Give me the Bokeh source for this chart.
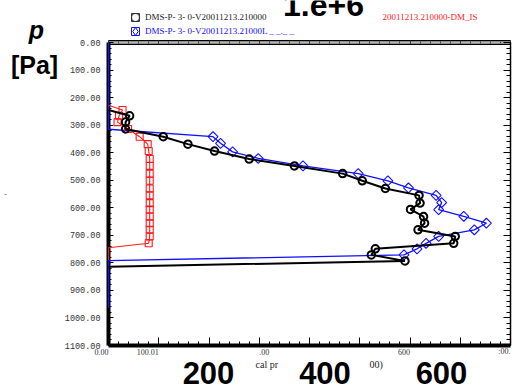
import numpy as np
from bokeh.plotting import figure
from bokeh.models import (LinearAxis, FixedTicker, PrintfTickFormatter, Range1d,
                          Label, Legend, LegendItem)
from bokeh.embed import file_html
from bokeh.resources import INLINE

# ---------------- data ----------------
black_x = [0, 42, 34, 34, 109, 158, 211, 280, 370, 466, 505, 551, 618, 620, 601,
           627, 629, 616, 690, 687, 531, 523, 590, 0]
black_p = [245, 266, 289, 314, 342, 369, 394, 423, 448, 476, 502, 530, 555, 583, 606,
           632, 656, 680, 704, 729, 749, 771, 793, 814]

blue_x = [0, 0, 208, 223, 247, 298, 387, 497, 556, 597, 652, 663, 657, 707, 752,
          728, 657, 632, 614, 588, 0, 0]
blue_p = [0, 315, 342, 366, 397, 421, 448, 476, 502, 528, 555, 581, 607, 631, 656,
          680, 704, 729, 749, 771, 792, 963]

red_x = [0, 28, 21, 18, 39, 62, 78, 80, 82, 82, 82, 82, 82, 82, 82, 82, 82, 82, 82,
         82, 80, 0, 0]
red_p = [228, 245, 266, 289, 314, 342, 369, 394, 423, 448, 476, 502, 530, 555, 583,
         606, 632, 656, 680, 704, 729, 745, 790]

label_black = "DMS-P- 3- 0-V20011213.210000"
label_blue = "DMS-P- 3- 0-V20011213.21000L _ _._ _"
label_red = "20011213.210000-DM_IS"
title_text = "1.e+6"
y_title = ["p", "[Pa]"]
y_axis_frag = "-"

x_lim = (0, 800)
y_lim = (0, 1100)
y_ticks = list(range(0, 1101, 100))
y_minor = list(range(0, 1101, 20))
x_ticks = list(range(0, 801, 100))
x_minor = list(range(0, 801, 20))

x_frag_vals = [0, 100, 300, 600, 800]
x_frag_text = ["0.00", "100.01", ".00", "600", ":00."]
x_frag_align = ["right", "right", "left", "right", "right"]

big_ticks = [200, 400, 600]
axis_title_frags = ["cal pr", "00)"]

# ---------------- layout ----------------
W, H = 512, 392
FL, FT, FR, FB = 108, 42, 510, 345   # plot box in canvas px (from top-left)

XS = (FR - FL) / (x_lim[1] - x_lim[0])
YS = (FB - FT) / (y_lim[1] - y_lim[0])
x_lo = x_lim[0] - FL / XS
x_hi = x_lim[1] + (W - FR) / XS
y_top = y_lim[0] - FT / YS
y_bot = y_lim[1] + (H - FB) / YS

def ydat(py):
    return y_lim[0] + (py - FT) / YS

# secondary scale used by the large tick labels: 200 -> px 208, 600 -> px 441
BK = (441 - 208) / 400.0
big_lo = 200 - 208 / BK
big_hi = 200 + (W - 208) / BK

p = figure(width=W, height=H, x_range=Range1d(x_lo, x_hi), y_range=Range1d(y_bot, y_top),
           output_backend="svg", toolbar_location=None,
           x_axis_location=None, y_axis_location=None,
           min_border=0)
p.grid.visible = False
p.outline_line_color = None
p.background_fill_color = "white"
p.border_fill_color = "white"
p.extra_x_ranges = {"big": Range1d(big_lo, big_hi)}

def sx(cx):
    return cx
def sy(cy):
    return H - cy

# ---------------- axes (fixed at the box edges) ----------------
left = LinearAxis(ticker=FixedTicker(ticks=y_ticks, minor_ticks=y_minor),
                  formatter=PrintfTickFormatter(format="%.2f"),
                  fixed_location=x_lim[0], bounds=y_lim,
                  axis_line_width=4, axis_line_color="black",
                  major_tick_in=5, major_tick_out=0, minor_tick_in=3, minor_tick_out=0,
                  major_label_standoff=8, major_label_text_font="Liberation Mono",
                  major_label_text_font_size="8.5px", major_label_text_color="#333333")
p.add_layout(left, "left")

right = LinearAxis(ticker=FixedTicker(ticks=y_ticks, minor_ticks=y_minor),
                   fixed_location=x_lim[1], bounds=y_lim,
                   axis_line_width=1.5, axis_line_color="black",
                   major_tick_in=7, major_tick_out=0, minor_tick_in=4, minor_tick_out=0,
                   major_label_text_color=None)
p.add_layout(right, "right")

top_k = LinearAxis(ticker=FixedTicker(ticks=[]), fixed_location=y_lim[0], bounds=x_lim,
                   axis_line_width=5, axis_line_color="black",
                   major_tick_in=0, major_tick_out=0, minor_tick_in=0, minor_tick_out=0,
                   major_label_text_color=None)
p.add_layout(top_k, "above")
top_g = LinearAxis(ticker=FixedTicker(ticks=x_ticks, minor_ticks=x_minor),
                   fixed_location=y_lim[0], bounds=x_lim,
                   axis_line_width=2.5, axis_line_color="#b8b8b8",
                   major_tick_in=2, major_tick_out=2, minor_tick_in=1, minor_tick_out=1,
                   major_tick_line_color="#222222", minor_tick_line_color="#444444",
                   major_label_text_color=None)
p.add_layout(top_g, "above")

bottom = LinearAxis(ticker=FixedTicker(ticks=x_ticks, minor_ticks=x_minor),
                    fixed_location=y_lim[1], bounds=x_lim,
                    axis_line_width=4, axis_line_color="black",
                    major_tick_in=8, major_tick_out=0, minor_tick_in=4, minor_tick_out=0,
                    major_label_text_color=None)
p.add_layout(bottom, "below")

SANS = "Liberation Sans"
SERIF = "Liberation Serif"

big_axis = LinearAxis(x_range_name="big", ticker=FixedTicker(ticks=big_ticks),
                      fixed_location=ydat(353),
                      axis_line_color=None, major_tick_line_color=None,
                      minor_tick_line_color=None, major_label_standoff=2,
                      major_label_text_font=SANS, major_label_text_font_size="31px",
                      major_label_text_font_style="bold", major_label_text_color="black")
p.add_layout(big_axis, "below")

# ---------------- series ----------------
BLUE = "#1010ff"
RED = "#ff1a1a"

def markers_only(xs, ys):
    xs = np.asarray(xs, float); ys = np.asarray(ys, float)
    m = xs > 0
    return xs[m], ys[m]

p.line(blue_x, blue_p, line_color=BLUE, line_width=1.3, level="overlay")
bx, by = markers_only(blue_x, blue_p)
p.scatter(bx, by, marker="square", angle=np.pi / 4, size=7, fill_color=None,
          line_color=BLUE, line_width=1.1, level="overlay")

p.line(red_x, red_p, line_color=RED, line_width=1.1, level="overlay")
rx, ry = markers_only(red_x, red_p)
p.scatter(rx, ry, marker="square", size=7, fill_color=None,
          line_color=RED, line_width=1.1, level="overlay")

p.line(black_x, black_p, line_color="black", line_width=2, level="overlay")
kx, ky = markers_only(black_x, black_p)
p.scatter(kx, ky, marker="circle", size=7.5, fill_color=None,
          line_color="black", line_width=2, level="overlay")

# legend key glyphs: muted (invisible) copies of the series, drawn in full in the legend
def key(xs, ys, marker, color, lw):
    r = p.scatter(xs, ys, marker=marker, size=8, fill_color=None, line_color=color,
                  line_width=lw, muted_alpha=0)
    r.muted = True
    return r

box_k = key(kx, ky, "square", "#333333", 1)
key_k = key(kx, ky, "circle", "#333333", 1.1)
box_b = key(bx, by, "square", BLUE, 1)
key_b = key(bx, by, "diamond", BLUE, 1)

leg_common = dict(background_fill_alpha=0, border_line_color=None, padding=0, margin=0,
                  spacing=0, glyph_width=20, glyph_height=20, label_standoff=0,
                  label_text_font=SERIF, label_text_font_size="9px",
                  label_height=20, label_text_baseline="middle", click_policy="none")
leg1 = Legend(items=[LegendItem(label=label_black, renderers=[box_k, key_k])],
              location=(125, sy(27)), label_text_color="#222222", **leg_common)
leg2 = Legend(items=[LegendItem(label=label_blue, renderers=[box_b, key_b])],
              location=(125, sy(40.5)), label_text_color=BLUE, **leg_common)
p.add_layout(leg1, "center")
p.add_layout(leg2, "center")

# ---------------- texts (baseline "middle") ----------------
p.add_layout(Label(x=sx(382), y=sy(16), x_units="screen", y_units="screen",
                   text=label_red, text_color=RED, text_font=SERIF,
                   text_font_size="9px", text_baseline="middle", text_align="left"))
p.add_layout(Label(x=sx(323), y=sy(4), x_units="screen", y_units="screen",
                   text=title_text, text_color="black", text_font=SANS,
                   text_font_size="32px", text_font_style="bold",
                   text_baseline="middle", text_align="center"))
p.add_layout(Label(x=sx(36), y=sy(29), x_units="screen", y_units="screen",
                   text=y_title[0], text_color="black", text_font=SANS,
                   text_font_size="25px", text_font_style="bold italic",
                   text_baseline="middle", text_align="center"))
p.add_layout(Label(x=sx(34), y=sy(64), x_units="screen", y_units="screen",
                   text=y_title[1], text_color="black", text_font=SANS,
                   text_font_size="25px", text_font_style="bold",
                   text_baseline="middle", text_align="center"))
p.add_layout(Label(x=sx(5), y=sy(193), x_units="screen", y_units="screen",
                   text=y_axis_frag, text_color="#555555", text_font=SERIF,
                   text_font_size="8px", text_baseline="middle", text_align="center"))

for v, t, a in zip(x_frag_vals, x_frag_text, x_frag_align):
    p.add_layout(Label(x=v, y=sy(351), x_units="data", y_units="screen",
                       text=t, text_align=a, text_baseline="middle",
                       text_font=SERIF, text_font_size="8px",
                       text_color="#333333"))

for cx, t in zip([255, 369], axis_title_frags):
    p.add_layout(Label(x=sx(cx), y=sy(364), x_units="screen", y_units="screen",
                       text=t, text_align="left", text_baseline="middle",
                       text_font=SERIF, text_font_size="10px",
                       text_color="#222222"))

open("out.html", "w").write(file_html(p, INLINE))
